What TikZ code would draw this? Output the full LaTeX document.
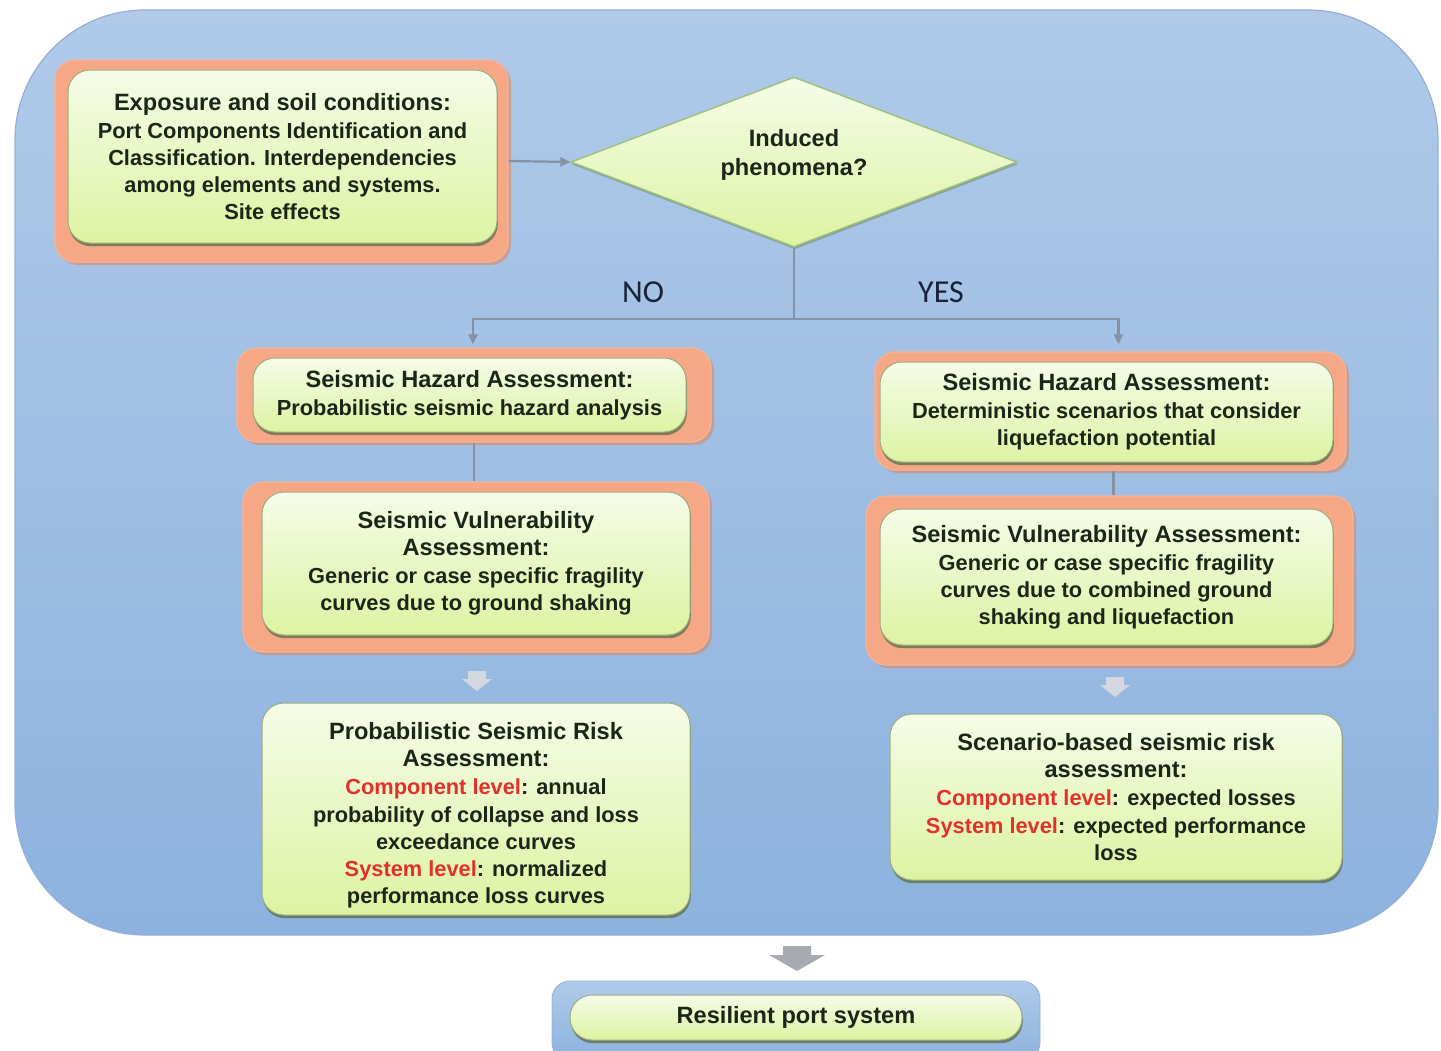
\documentclass[tikz,border=0pt]{standalone}
\usepackage{fontspec}
\setmainfont{Liberation Sans}
\newfontfamily\calib{Carlito}
\usetikzlibrary{shapes.geometric,shadows,arrows.meta,calc}
\definecolor{bgtop}{HTML}{B0CAE8}
\definecolor{bgbot}{HTML}{8DB2DF}
\definecolor{bgedge}{HTML}{93AFD6}
\definecolor{orfill}{HTML}{F6A785}
\definecolor{oredge}{HTML}{F2B59A}
\definecolor{orshadow}{HTML}{D98866}
\definecolor{gtop}{HTML}{F5FCE8}
\definecolor{gbot}{HTML}{DDF3A2}
\definecolor{gedge}{HTML}{9AAE80}
\definecolor{gshadow}{HTML}{5C6A48}
\definecolor{txt}{HTML}{1C2618}
\definecolor{redtxt}{HTML}{E2312B}
\definecolor{conncol}{HTML}{8592A6}
\definecolor{labtxt}{HTML}{18233A}
\definecolor{dedge}{HTML}{9CC27A}
\definecolor{paleblk}{HTML}{D3D8E0}
\definecolor{grayblk}{HTML}{A7ABB1}
\newcommand\ttl[1]{{\fontsize{11.8}{14.6}\selectfont #1}}
\newcommand\rd[1]{\textcolor{redtxt}{#1}}
\tikzset{
  orangebox/.style={draw=oredge, fill=orfill, line width=0.6pt, rounded corners=10pt, inner sep=0pt,
    drop shadow={shadow xshift=1.5pt, shadow yshift=-1.5pt, fill=orshadow, opacity=0.6}},
  greenbox/.style={draw=gedge, top color=gtop, bottom color=gbot, line width=0.5pt, rounded corners=11pt,
    inner sep=2pt, align=center, text=txt, font=\bfseries\fontsize{10.9}{13.6}\selectfont,
    drop shadow={shadow xshift=0.4pt, shadow yshift=-1.6pt, fill=gshadow, opacity=0.75}},
  conn/.style={draw=conncol, line width=1.1pt},
  conntip/.style={conn, -{Triangle[length=5pt,width=4.5pt]}},
  answer/.style={font=\calib\fontsize{16}{18}\selectfont, text=labtxt}
}
\begin{document}
\begin{tikzpicture}[x=0.5pt,y=-0.5pt]
\useasboundingbox (0,0) rectangle (1441,1050);
% big background panel
\path[draw=bgedge, line width=0.6pt, top color=bgtop, bottom color=bgbot, rounded corners=65pt]
  (15,10) rectangle (1438,935);

% top-left box
\node[orangebox, minimum width=226.5pt, minimum height=101pt] (expO) at (281.5,161) {};
\node[greenbox, minimum width=214.5pt, minimum height=86.5pt] (exp) at (282.5,156.5)
  {\ttl{Exposure and soil conditions:}\\[0.4pt]
   Port Components Identification and\\
   Classification. Interdependencies\\
   among elements and systems.\\
   Site effects};

% decision diamond
\node[diamond, aspect=2.6, minimum width=223pt, minimum height=85pt, inner sep=0pt,
      draw=dedge, line width=0.7pt, top color=gtop, bottom color=gbot,
      drop shadow={shadow xshift=0.4pt, shadow yshift=-1.2pt, fill=gshadow, opacity=0.4},
      label={[align=center, text=txt, font=\bfseries\fontsize{11.8}{14.6}\selectfont, yshift=3.6pt]center:Induced\\phenomena?}]
  (dia) at (794,162) {};

% left branch
\node[orangebox, minimum width=237pt, minimum height=47pt] (hzLO) at (474,395) {};
\node[greenbox, minimum width=216.5pt, minimum height=37pt] (hzL) at (469.5,395)
  {\ttl{Seismic Hazard Assessment:}\\[0.4pt]
   Probabilistic seismic hazard analysis};

\node[orangebox, minimum width=233pt, minimum height=85pt] (vuLO) at (476,567) {};
\node[greenbox, minimum width=214pt, minimum height=71.5pt] (vuL) at (476,563.5)
  {\ttl{Seismic Vulnerability}\\
   \ttl{Assessment:}\\[0.4pt]
   Generic or case specific fragility\\
   curves due to ground shaking};

\node[greenbox, minimum width=214pt, minimum height=106pt] (rkL) at (476,809)
  {\ttl{\rule{0pt}{15pt}Probabilistic Seismic Risk}\\
   \ttl{Assessment:}\\[0.4pt]
   \rd{Component level}: annual\\
   probability of collapse and loss\\
   exceedance curves\\
   \rd{System level}: normalized\\
   performance loss curves};

% right branch
\node[orangebox, minimum width=235.5pt, minimum height=59pt] (hzRO) at (1110.5,411) {};
\node[greenbox, minimum width=226.5pt, minimum height=50pt] (hzR) at (1106.5,412)
  {\ttl{Seismic Hazard Assessment:}\\[0.4pt]
   Deterministic scenarios that consider\\
   liquefaction potential};

\node[orangebox, minimum width=243.5pt, minimum height=84.5pt] (vuRO) at (1109.5,580.5) {};
\node[greenbox, minimum width=226.5pt, minimum height=68pt] (vuR) at (1106.5,577)
  {\ttl{Seismic Vulnerability Assessment:}\\[0.4pt]
   Generic or case specific fragility\\
   curves due to combined ground\\
   shaking and liquefaction};

\node[greenbox, minimum width=226pt, minimum height=83pt] (rkR) at (1116,797)
  {\ttl{Scenario-based seismic risk}\\
   \ttl{assessment:}\\[0.4pt]
   \rd{Component level}: expected losses\\
   \rd{System level}: expected performance\\
   loss};

% bottom result
\node[draw=bgedge, top color=bgtop, bottom color=bgbot, rounded corners=9pt,
      minimum width=244pt, minimum height=40pt, inner sep=0pt] (resO) at (796,1021) {};
\node[greenbox, minimum width=226pt, minimum height=22.5pt] (res) at (796,1017.5)
  {\ttl{Resilient port system}};

% connectors
\draw[conntip] (expO.east) -- (dia.west);
\draw[conn] (dia.south) -- ($(dia.south)+(0,71)$) coordinate (split);
\draw[conntip] (split) -| ($(hzLO.north)+(-1,-3)$);
\draw[conntip] (split) -| ($(hzRO.north)+(8,-7)$);
\draw[conn] (hzLO.south) -- (hzLO.south |- vuLO.north);
\draw[conn] ($(hzRO.south)+(3,0)$) -- ($(hzRO.south |- vuRO.north)+(3,0)$);

\node[answer] (no) at (643,292) {NO};
\node[answer] (yes) at (941,292) {YES};

% block arrows
\coordinate (ba1) at (477,681);
\coordinate (ba2) at (1115,687);
\coordinate (ba3) at (797,958);
\fill[paleblk] ($(ba1)+(-9,-10)$) -- ($(ba1)+(9,-10)$) -- ($(ba1)+(9,-2)$) -- ($(ba1)+(15,-2)$)
  -- ($(ba1)+(0,10)$) -- ($(ba1)+(-15,-2)$) -- ($(ba1)+(-9,-2)$) -- cycle;
\fill[paleblk] ($(ba2)+(-9,-10)$) -- ($(ba2)+(9,-10)$) -- ($(ba2)+(9,-2)$) -- ($(ba2)+(15,-2)$)
  -- ($(ba2)+(0,10)$) -- ($(ba2)+(-15,-2)$) -- ($(ba2)+(-9,-2)$) -- cycle;
\fill[grayblk] ($(ba3)+(-14,-12)$) -- ($(ba3)+(14,-12)$) -- ($(ba3)+(14,-3)$) -- ($(ba3)+(28,-3)$)
  -- ($(ba3)+(0,13)$) -- ($(ba3)+(-28,-3)$) -- ($(ba3)+(-14,-3)$) -- cycle;
\end{tikzpicture}
\end{document}
